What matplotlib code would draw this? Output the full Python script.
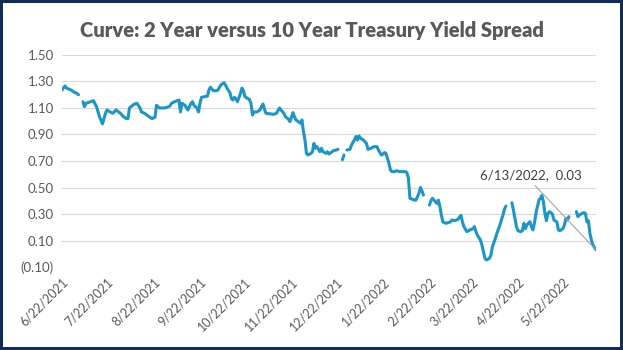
import numpy as np
import pandas as pd
import matplotlib
matplotlib.use('Agg')
import matplotlib.pyplot as plt
import matplotlib.dates as mdates
from matplotlib.ticker import FuncFormatter

plt.rcParams['font.family'] = ['Lato', 'DejaVu Sans']

# days after 6/22/2021, and the 2y/10y spread; None marks a market holiday (gap)
day_offsets = [
    0, 2, 3, 6, 8, 10, 11, 13,
    14, 15, 16, 19, 21, 23, 25, 27, 29, 30, 32, 34, 36, 39, 41, 43, 44, 45,
    48, 50, 52, 53, 55, 58, 60, 62, 63, 65, 68, 70, 72, 73, 75, 78, 79, 80,
    82, 84, 86, 87, 88, 90, 91, 92, 93, 95, 97, 98, 99, 101, 103, 104, 105,
    106, 108, 109, 110, 112, 113, 114, 115, 116, 117, 119, 120, 121, 122,
    124, 125, 126, 127, 128, 130, 132, 133, 134, 135, 136, 139, 141, 143,
    144, 145, 146, 148, 149, 151, 152, 154, 155, 156, 159, 160, 161, 162,
    163, 164, 166, 167, 168, 169, 170, 172, 173, 174, 176, 177, 178, 180,
    181, 183, 184, 185,
    187, 188, 189,
    190, 192, 193, 195, 196, 197, 198, 199, 201, 203, 204, 206, 208, 210,
    211, 213, 214, 215, 216, 218, 219, 220, 222, 223, 225, 226, 229, 230,
    231, 232, 234, 235, 236, 238, 239, 240, 241, 244,
    245, 246, 247, 248, 250, 251, 252, 253, 254, 256, 259, 260, 262, 264,
    266, 267, 268, 270, 272, 274, 275, 276, 277, 279, 280, 281, 282, 283,
    285, 286, 287, 289, 290, 292, 293, 294, 295, 296, 297,
    300, 301, 302, 303, 304, 306, 307, 308, 309, 310, 312, 313, 314, 315,
    316, 317, 318, 319, 320, 321, 322, 323, 324, 325, 327, 328, 330, 331,
    332, 334, 335, 336, 337, 338, 342,
    343, 344, 345, 347, 348, 349, 350, 351, 352, 353, 354, 356,
]
spread = [
    1.236, 1.266, 1.25, 1.236, 1.22, 1.21, 1.20, None,
    1.147, 1.11, 1.135, 1.147, 1.155, 1.11, 1.034, 0.98, 1.06, 1.085, 1.07,
    1.06, 1.085, 1.06, 1.034, 1.02, 1.02, 1.10,
    1.128, 1.135, 1.10, 1.07, 1.06, 1.035, 1.02, 1.03, 1.12, 1.10, 1.10,
    1.105, 1.115, 1.135, 1.147, 1.16, 1.07, 1.135,
    1.12, 1.085, 1.135, 1.147, 1.12, 1.10, 1.07, 1.135, 1.18, 1.185, 1.19,
    1.236, 1.256, 1.23, 1.23, 1.236, 1.256,
    1.274, 1.29, 1.274, 1.25, 1.215, 1.17, 1.16, 1.18, 1.17, 1.147, 1.21,
    1.25, 1.23, 1.185,
    1.17, 1.165, 1.135, 1.047, 1.07, 1.07, 1.085, 1.11, 1.13, 1.09, 1.06,
    1.055, 1.052, 1.06,
    1.08, 1.10, 1.085, 1.06, 1.034, 1.015, 0.997, 1.065, 1.034, 1.01,
    0.985, 1.01, 0.92, 0.86,
    0.758, 0.745, 0.758, 0.77, 0.833, 0.796, 0.808, 0.77, 0.796, 0.77,
    0.758, 0.77, 0.753, 0.77,
    0.778, 0.783, 0.788, None,
    0.71, 0.745, None,
    0.783, 0.788, 0.82, 0.86, 0.885, 0.858, 0.889, 0.872, 0.858, 0.833,
    0.788, 0.796, 0.808, 0.808,
    0.783, 0.745, 0.753, 0.763, 0.758, 0.683, 0.632, 0.62, 0.62, 0.627,
    0.62, 0.62, 0.62, 0.612,
    0.57, 0.418, 0.41, 0.405, 0.405, 0.456, 0.50, 0.475, 0.443, None,
    0.368, 0.40, 0.418, 0.405, 0.38, 0.405, 0.355, 0.29, 0.24, 0.23, 0.24,
    0.255, 0.25, 0.26,
    0.29, 0.24, 0.205, 0.167, 0.18, 0.19, 0.205, 0.167, 0.14, 0.104, 0.066,
    0.016, -0.034, -0.047,
    -0.034, -0.01, 0.053, 0.117, 0.155, 0.217, 0.255, 0.29, 0.335, 0.36, None,
    0.385, 0.33, 0.267, 0.205, 0.174, 0.167, 0.174, 0.23, 0.19, 0.217, 0.242,
    0.205, 0.18, 0.23,
    0.305, 0.355, 0.405, 0.418, 0.44, 0.393, 0.305, 0.25, 0.305, 0.318, 0.30,
    0.255, 0.24, 0.18,
    0.174, 0.19, 0.217, 0.267, 0.255, 0.28, None,
    0.318, 0.28, 0.293, 0.305, 0.31, 0.305, 0.24, 0.25, 0.155, 0.104, 0.066, 0.03,
]

start = pd.Timestamp('2021-06-22')
end = pd.Timestamp('2022-06-13')
dates = start + pd.to_timedelta(day_offsets, unit='D')
values = np.array([np.nan if v is None else v for v in spread], dtype=float)

tick_dates = pd.date_range('2021-06-01', '2022-05-01', freq='MS') + pd.Timedelta(days=21)
y_ticks = [-0.1, 0.1, 0.3, 0.5, 0.7, 0.9, 1.1, 1.3, 1.5]

fig = plt.figure(figsize=(6.23, 3.5), dpi=100)
fig.patch.set_facecolor('white')
fig.patch.set_edgecolor('#0f2d57')
fig.patch.set_linewidth(4)

ax = fig.add_axes([0.0995, 0.237, 0.857, 0.606])
ax.plot(dates, values, color='#1a96c8', linewidth=2.2, solid_capstyle='round')

ax.set_xlim(start, end)
ax.set_ylim(-0.1, 1.5)
ax.set_yticks(y_ticks)
ax.yaxis.set_major_formatter(FuncFormatter(
    lambda v, p: '({:.2f})'.format(abs(v)) if v < -1e-9 else '{:.2f}'.format(v)))
ax.set_xticks(tick_dates)
ax.xaxis.set_major_formatter(FuncFormatter(
    lambda v, p: '{d.month}/{d.day}/{d.year}'.format(d=mdates.num2date(v))))

ax.grid(axis='y', color='#d9d9d9', linewidth=0.8)
ax.set_axisbelow(True)
for s in ax.spines.values():
    s.set_visible(False)
ax.tick_params(axis='both', length=0, colors='#595959', labelsize=9)
ax.tick_params(axis='y', pad=6, labelsize=9.5)
plt.setp(ax.get_xticklabels(), rotation=45, ha='right', rotation_mode='anchor')
ax.tick_params(axis='x', pad=6)

fig.text(0.5, 0.913, 'Curve: 2 Year versus 10 Year Treasury Yield Spread',
         ha='center', va='center', fontsize=14.5, fontweight='heavy', color='#595959')

ax.annotate('6/13/2022,  0.03', xy=(end, values[-1]), xytext=(-47, 54),
            textcoords='offset points', ha='center', va='center',
            fontsize=9.5, color='#404040',
            arrowprops=dict(arrowstyle='-', color='#a6a6a6', lw=0.8,
                            relpos=(0.5, 0), shrinkA=2, shrinkB=0))

fig.savefig('out.png', dpi=100, facecolor=fig.get_facecolor(),
            edgecolor=fig.get_edgecolor())
